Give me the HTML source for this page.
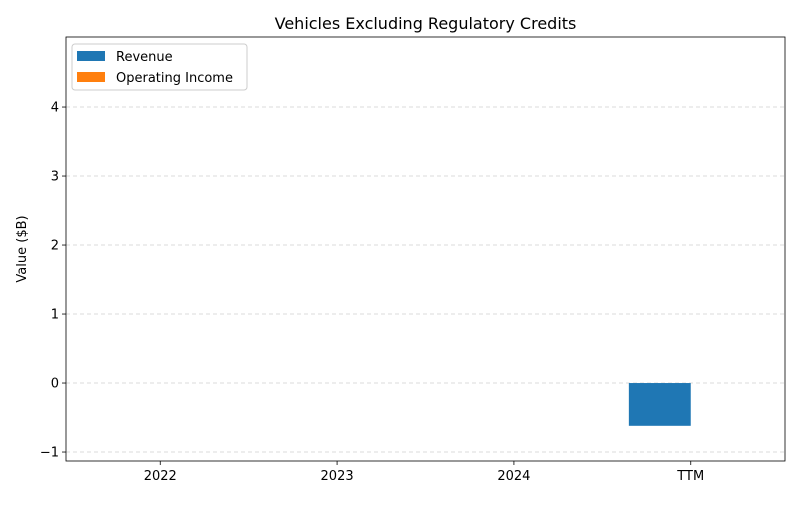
<!DOCTYPE html>
<html><head><meta charset="utf-8"><style>
body{margin:0;background:#fff;font-family:"Liberation Sans","DejaVu Sans",sans-serif;}
svg text{font-family:"DejaVu Sans","Liberation Sans",sans-serif;}
</style></head><body>
<svg id="chart" width="800" height="500" xmlns="http://www.w3.org/2000/svg"></svg>
<script>
const categories=["2022","2023","2024","TTM"];
const revenue=[0,0,0,-0.62];
const operatingIncome=[0,0,0,0];
const yTicks=[-1,0,1,2,3,4];
const seriesNames=["Revenue","Operating Income"];
const colors=["#1f77b4","#ff7f0e"];
const svg=document.getElementById('chart');
const NS="http://www.w3.org/2000/svg";
const L=66,R=785,T=37,B=461;
const yMin=-1.13,yMax=5.015,xMin=-0.533,xMax=3.533;
const ys=v=>B-(v-yMin)/(yMax-yMin)*(B-T);
const xs=v=>L+(v-xMin)/(xMax-xMin)*(R-L);
function mk(tag,attrs,name,inter){const e=document.createElementNS(NS,tag);for(const k in attrs)e.setAttribute(k,attrs[k]);


svg.appendChild(e);return e;}
yTicks.forEach(t=>{const y=ys(t);
mk('line',{x1:L,x2:R,y1:y,y2:y,stroke:'#b0b0b0','stroke-width':0.8,'stroke-dasharray':'4,3',opacity:0.6},'y-gridline',false);
mk('line',{x1:L-4,x2:L,y1:y,y2:y,stroke:'#000','stroke-width':0.8},'y-tick',false);
const tx=mk('text',{x:L-7,y:y+4.5,'text-anchor':'end','font-size':13},'y-tick-label',false);tx.textContent=t<0?'−'+Math.abs(t):t;});
const bw=0.35;
categories.forEach((c,i)=>{
[revenue,operatingIncome].forEach((s,j)=>{const v=s[i];const cx=i+(j===0?-bw/2:bw/2);
const x0=xs(cx-bw/2),x1=xs(cx+bw/2);const y0=ys(Math.max(0,v)),y1=ys(Math.min(0,v));
mk('rect',{x:x0,y:y0,width:x1-x0,height:Math.max(0,y1-y0),fill:colors[j]},'bar-'+(j===0?'revenue':'operating-income')+'-'+c.toLowerCase(),true);});
const x=xs(i);
mk('line',{x1:x,x2:x,y1:B,y2:B+4,stroke:'#000','stroke-width':0.8},'x-tick',false);
const tx=mk('text',{x:x,y:B+19,'text-anchor':'middle','font-size':13},'x-tick-label',false);tx.textContent=c;});
mk('rect',{x:L,y:T,width:R-L,height:B-T,fill:'none',stroke:'#000','stroke-width':0.8},'plot-frame',false);
const title=mk('text',{x:(L+R)/2,y:T-8,'text-anchor':'middle','font-size':16},'chart-title',false);title.textContent='Vehicles Excluding Regulatory Credits';
const yl=mk('text',{x:26,y:(T+B)/2,'text-anchor':'middle','font-size':13,transform:`rotate(-90 26 ${(T+B)/2})`},'y-axis-title',false);yl.textContent='Value ($B)';
mk('rect',{x:72,y:44,width:175,height:46,fill:'#fff',stroke:'#ccc',rx:3},'legend',false);
seriesNames.forEach((n,j)=>{const y=51+j*21;
mk('rect',{x:77,y:y,width:28,height:10,fill:colors[j]},'legend-swatch-'+j,false);
const t=mk('text',{x:116,y:y+10,'font-size':13},'legend-entry',true);t.textContent=n;});
</script>
</body></html>
